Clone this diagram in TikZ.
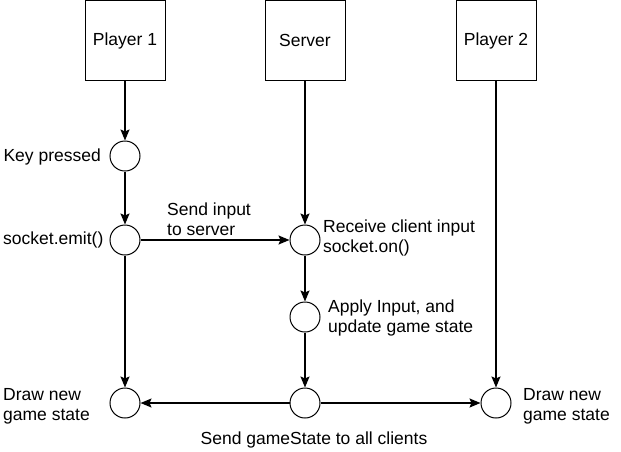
\documentclass[tikz,border=0pt]{standalone}
\usepackage{fontspec}
\setmainfont{Liberation Sans}
\usetikzlibrary{arrows.meta, positioning}

\begin{document}
\begin{tikzpicture}[x=1pt, y=-1pt,
        actor/.style={rectangle, draw, line width=1pt, minimum width=80pt, minimum height=80pt, inner sep=0pt},
        event/.style={circle, draw, line width=1pt, minimum size=30pt, inner sep=0pt},
        txt/.style={inner sep=0pt, align=left, font=\fontsize{17.5}{20}\selectfont},
        flow/.style={line width=1.5pt, -{Stealth[length=11pt, width=9pt, inset=2pt]}}]
        \useasboundingbox (0, 0) rectangle (621, 451);

        \node[actor, txt, inner sep=0pt] (p1) at (125, 40.5) {Player 1};
        \node[actor, txt, inner sep=0pt] (srv) at (305, 40.5) {Server};
        \node[actor, txt, inner sep=0pt] (p2) at (496, 40.5) {Player 2};

        \node[event] (key) at (125, 156) {};
        \node[event] (emit) at (125, 240) {};
        \node[event] (recv) at (305, 240) {};
        \node[event] (apply) at (305, 317) {};
        \node[event] (draw1) at (125, 403) {};
        \node[event] (bcast) at (305, 403) {};
        \node[event] (draw2) at (496, 403) {};

        \node[txt, anchor=east] (keylbl) at (101, 157) {Key pressed};
        \node[txt, anchor=west] (emitlbl) at (3, 240) {socket.emit()};
        \node[txt, anchor=west] (sendlbl) at (167, 219) {Send input\\to server};
        \node[txt, anchor=west] (recvlbl) at (323, 238) {Receive client input\\socket.on()};
        \node[txt, anchor=west] (applylbl) at (328, 318) {Apply Input, and\\update game state};
        \node[txt, anchor=west] (draw1lbl) at (3, 406) {Draw new\\game state};
        \node[txt, anchor=west] (draw2lbl) at (523, 406) {Draw new\\game state};
        \node[txt] (bcastlbl) at (314, 440) {Send gameState to all clients};

        \draw[flow] (p1) -- (key);
        \draw[flow] (key) -- (emit);
        \draw[flow] (emit) -- (draw1);
        \draw[flow] (srv) -- (recv);
        \draw[flow] (recv) -- (apply);
        \draw[flow] (apply) -- (bcast);
        \draw[flow] (p2) -- (draw2);
        \draw[flow] (emit) -- (recv);
        \draw[flow] (bcast) -- (draw1);
        \draw[flow] (bcast) -- (draw2);
\end{tikzpicture}
\end{document}
